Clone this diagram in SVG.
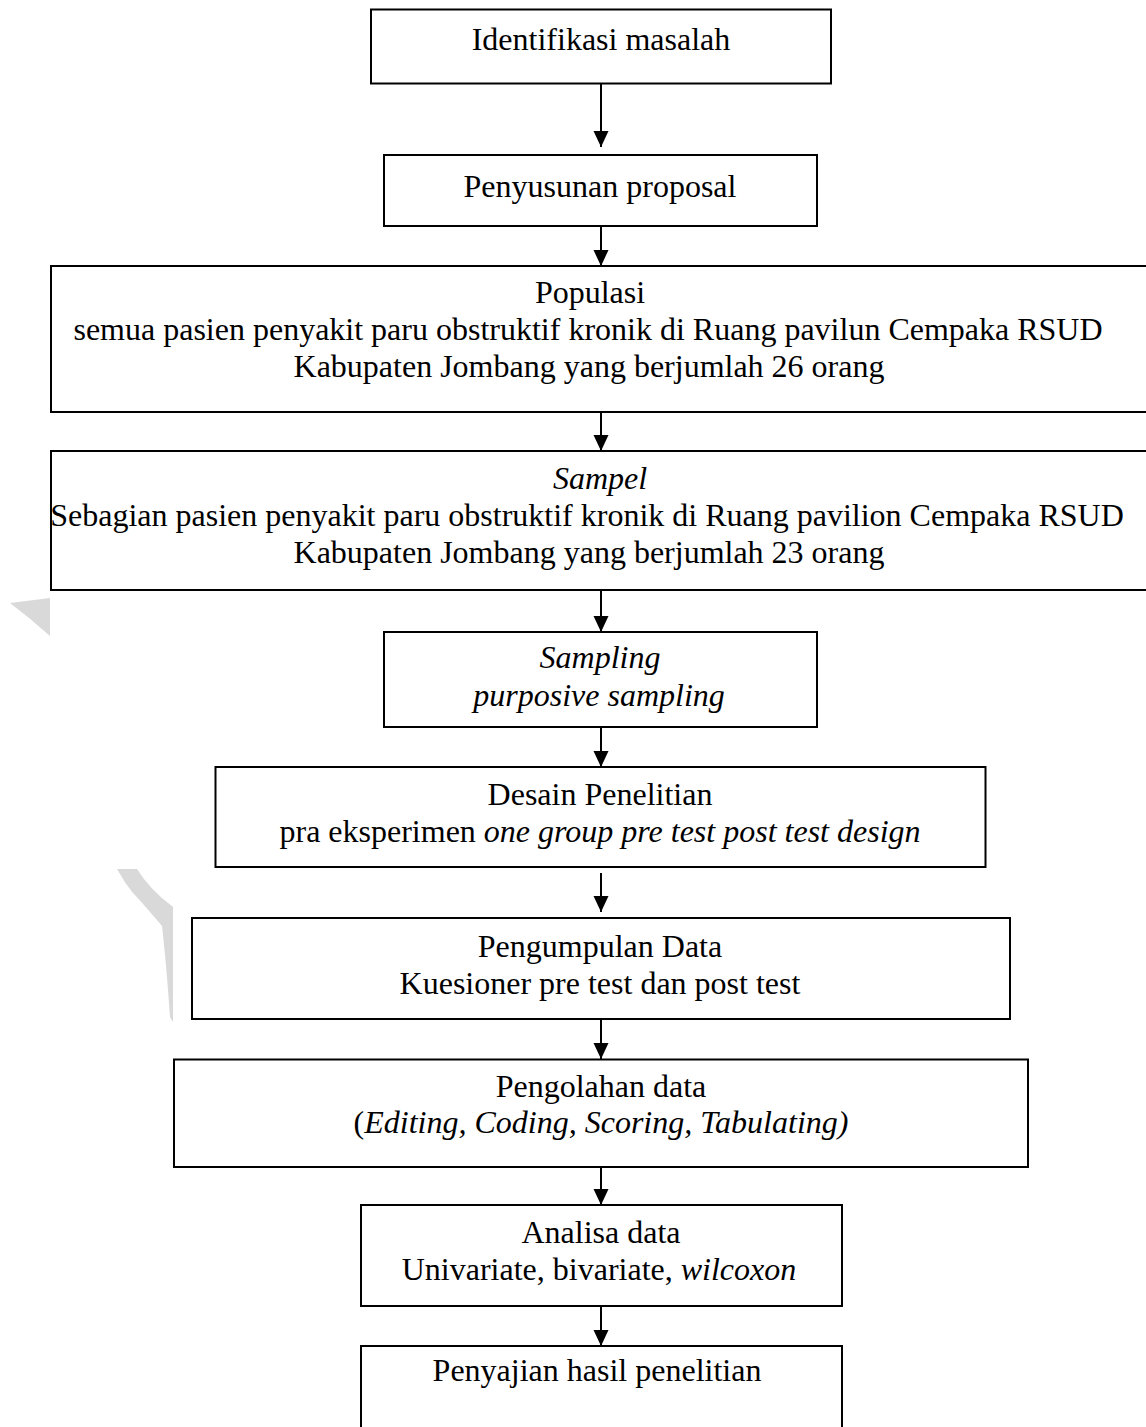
<svg xmlns="http://www.w3.org/2000/svg" width="1146" height="1427" viewBox="0 0 1146 1427">
<defs>
<style>
.box{fill:none;stroke:#000;stroke-width:2}
.t{font-family:"Liberation Serif","Times New Roman",serif;font-size:32px;fill:#000;text-anchor:middle}
.i{font-style:italic}
.c{stroke:#000;stroke-width:2;fill:none}
.wm{fill:#d9d9d9;stroke:none}
</style>
<marker id="ah" markerUnits="userSpaceOnUse" markerWidth="17" markerHeight="16" refX="16" refY="7.5" orient="auto">
<path d="M0,0 L16,7.5 L0,15 Z" fill="#000"/>
</marker>
</defs>
<rect width="1146" height="1427" fill="#fff"/>
<g id="watermark">
<path class="wm" d="M10,603 L50,598 L50,636 Q30,618 10,603 Z"/>
<path class="wm" d="M117,869 L137,869 Q150,890 173,907 L173,1022 L170,1017 Q166,960 162,926 Q140,900 133,893 Q124,882 117,869 Z"/>
</g>
<g id="connectors">
<line class="c" x1="601" y1="84" x2="601" y2="147" marker-end="url(#ah)"/>
<line class="c" x1="601" y1="226" x2="601" y2="266" marker-end="url(#ah)"/>
<line class="c" x1="601" y1="412" x2="601" y2="451" marker-end="url(#ah)"/>
<line class="c" x1="601" y1="590" x2="601" y2="632" marker-end="url(#ah)"/>
<line class="c" x1="601" y1="727" x2="601" y2="767" marker-end="url(#ah)"/>
<line class="c" x1="601" y1="873" x2="601" y2="912" marker-end="url(#ah)"/>
<line class="c" x1="601" y1="1019" x2="601" y2="1059" marker-end="url(#ah)"/>
<line class="c" x1="601" y1="1167" x2="601" y2="1205" marker-end="url(#ah)"/>
<line class="c" x1="601" y1="1306" x2="601" y2="1346" marker-end="url(#ah)"/>
</g>
<g id="n1">
<rect class="box" x="371" y="9.5" width="460" height="74"/>
<text class="t" x="601" y="50">Identifikasi masalah</text>
</g>
<g id="n2">
<rect class="box" x="384" y="155" width="433" height="71"/>
<text class="t" x="600" y="197">Penyusunan proposal</text>
</g>
<g id="n3">
<rect class="box" x="51" y="266" width="1115" height="146"/>
<text class="t" x="590" y="303">Populasi</text>
<text class="t" x="588" y="340">semua pasien penyakit paru obstruktif kronik di Ruang pavilun Cempaka RSUD</text>
<text class="t" x="589" y="377">Kabupaten Jombang yang berjumlah 26 orang</text>
</g>
<g id="n4">
<rect class="box" x="51" y="451" width="1115" height="139"/>
<text class="t i" x="600" y="489">Sampel</text>
<text class="t" x="587" y="526">Sebagian pasien penyakit paru obstruktif kronik di Ruang pavilion Cempaka RSUD</text>
<text class="t" x="589" y="563">Kabupaten Jombang yang berjumlah 23 orang</text>
</g>
<g id="n5">
<rect class="box" x="384" y="632" width="433" height="95"/>
<text class="t i" x="600" y="668">Sampling</text>
<text class="t i" x="599" y="706">purposive sampling</text>
</g>
<g id="n6">
<rect class="box" x="215.5" y="767" width="770" height="100"/>
<text class="t" x="600" y="805">Desain Penelitian</text>
<text class="t" x="600" y="842">pra eksperimen <tspan class="i">one group pre test post test design</tspan></text>
</g>
<g id="n7">
<rect class="box" x="192" y="918" width="818" height="101"/>
<text class="t" x="600" y="957">Pengumpulan Data</text>
<text class="t" x="600" y="994">Kuesioner pre test dan post test</text>
</g>
<g id="n8">
<rect class="box" x="174" y="1059.5" width="854" height="107.5"/>
<text class="t" x="601" y="1097">Pengolahan data</text>
<text class="t" x="601" y="1133">(<tspan class="i">Editing, Coding, Scoring, Tabulating)</tspan></text>
</g>
<g id="n9">
<rect class="box" x="361" y="1205" width="481" height="101"/>
<text class="t" x="601" y="1243">Analisa data</text>
<text class="t" x="599" y="1280">Univariate, bivariate, <tspan class="i">wilcoxon</tspan></text>
</g>
<g id="n10">
<rect class="box" x="361" y="1346" width="481" height="110"/>
<text class="t" x="597" y="1381">Penyajian hasil penelitian</text>
</g>
</svg>
